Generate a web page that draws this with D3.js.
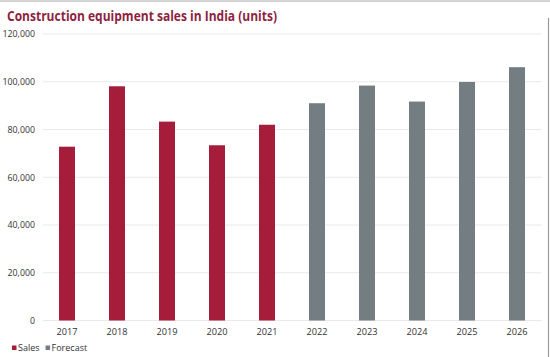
<!DOCTYPE html>
<html>
<head>
<meta charset="utf-8">
<script src="https://cdn.jsdelivr.net/npm/d3@7"></script>
<style>
  html, body { margin: 0; padding: 0; background: #fff; }
  svg { display: block; font-family: "Open Sans", "Noto Sans", sans-serif; }
</style>
</head>
<body>
<svg id="chart" width="550" height="357"></svg>
<script>
const years = ["2017","2018","2019","2020","2021","2022","2023","2024","2025","2026"];
const salesValues = [72800, 98100, 83300, 73400, 82000, null, null, null, null, null];
const forecastValues = [null, null, null, null, null, 91000, 98400, 91700, 99900, 106100];
const yTicks = [0, 20000, 40000, 60000, 80000, 100000, 120000];
const seriesNames = ["Sales", "Forecast"];
const seriesColors = ["#a51d3b", "#737d82"];
const titleText = "Construction equipment sales in India (units)";

const svg = d3.select("#chart");
const W = 550, H = 357;

// frame lines
svg.append("rect").attr("x", 0).attr("y", 0).attr("width", W).attr("height", 2).attr("fill", "#d4d4d4");
svg.append("line").attr("x1", 548.5).attr("x2", 548.5).attr("y1", 18).attr("y2", 357)
  .attr("stroke", "#9a9a9a").attr("stroke-width", 1.2);

const x = d3.scaleBand().domain(years).range([42, 542]).paddingInner(0.68).paddingOuter(0.34);
const y = d3.scaleLinear().domain([0, 120000]).range([320.5, 34]);

// gridlines
svg.append("g").selectAll("line").data(yTicks).join("line")
  .attr("x1", 43).attr("x2", 542)
  .attr("y1", d => y(d)).attr("y2", d => y(d))
  .attr("stroke", "#e9e9e9").attr("stroke-width", 1);

// y axis labels
const yAxis = d3.axisLeft(y).tickValues(yTicks).tickSize(0).tickPadding(0)
  .tickFormat(d3.format(","));
const gy = svg.append("g").attr("transform", "translate(35,0)").call(yAxis);
gy.select(".domain").remove();
gy.selectAll("text").attr("font-size", "8.8px").attr("fill", "#333").attr("font-family", "\"Open Sans\", sans-serif");

// bars
const data = years.map((yr, i) => ({
  year: yr,
  value: salesValues[i] != null ? salesValues[i] : forecastValues[i],
  series: salesValues[i] != null ? 0 : 1
}));
svg.append("g").selectAll("rect").data(data).join("rect")
  .attr("x", d => x(d.year))
  .attr("width", x.bandwidth())
  .attr("y", d => y(d.value))
  .attr("height", d => y(0) - y(d.value))
  .attr("fill", d => seriesColors[d.series]);

// x axis labels
const xAxis = d3.axisBottom(x).tickSize(0).tickPadding(0);
const gx = svg.append("g").attr("transform", "translate(0,328)").call(xAxis);
gx.select(".domain").remove();
gx.selectAll("text").attr("font-size", "9.2px").attr("fill", "#333").attr("font-family", "\"Open Sans\", sans-serif");

// title
svg.append("text").attr("x", 7).attr("y", 21)
  .attr("font-size", "14.5px").attr("font-weight", "bold").attr("fill", "#8e1f3f")
  .attr("textLength", 270).attr("lengthAdjust", "spacingAndGlyphs")
  .text(titleText);

// legend
const legend = svg.append("g").attr("transform", "translate(12,348)");
let lx = 0;
seriesNames.forEach((name, i) => {
  const g = legend.append("g").attr("transform", `translate(${lx},0)`);
  g.append("rect").attr("x", 0).attr("y", -2.5).attr("width", 4.5).attr("height", 4.5).attr("fill", seriesColors[i]);
  const t = g.append("text").attr("x", 6).attr("y", 3).attr("font-size", "9px").attr("fill", "#333").text(name);
  lx += 6 + t.node().getComputedTextLength() + 6;
});
</script>
</body>
</html>
